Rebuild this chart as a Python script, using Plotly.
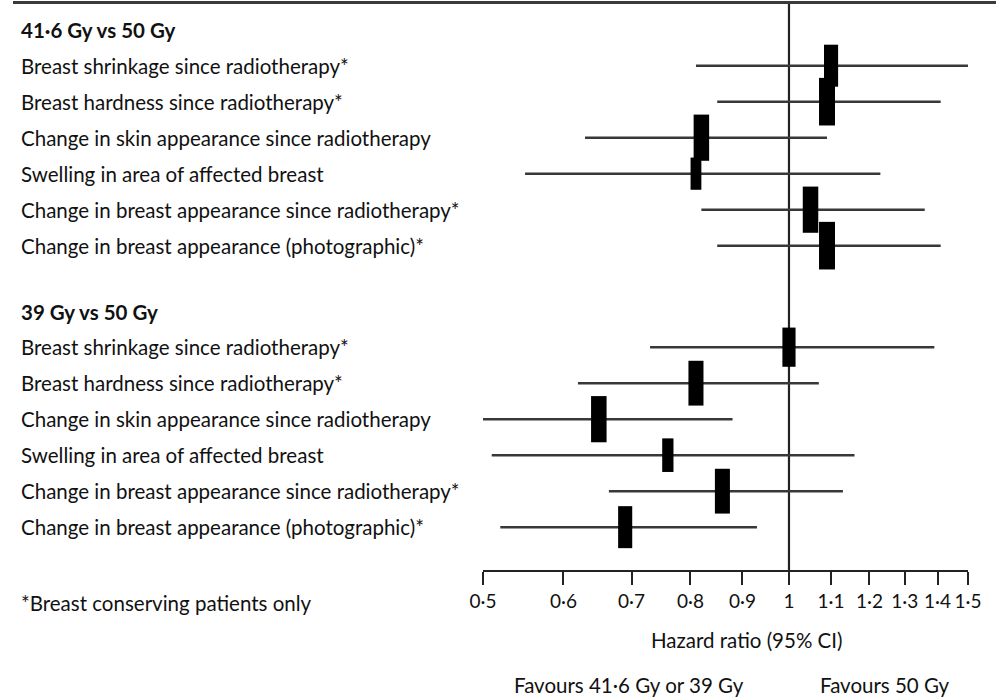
import plotly.graph_objects as go

# ---- data -------------------------------------------------------------
group_titles = ["41·6 Gy vs 50 Gy", "39 Gy vs 50 Gy"]
outcomes = [
    "Breast shrinkage since radiotherapy*",
    "Breast hardness since radiotherapy*",
    "Change in skin appearance since radiotherapy",
    "Swelling in area of affected breast",
    "Change in breast appearance since radiotherapy*",
    "Change in breast appearance (photographic)*",
]

# 41.6 Gy vs 50 Gy
hr_416 = [1.10, 1.09, 0.82, 0.81, 1.05, 1.09]
lo_416 = [0.81, 0.85, 0.63, 0.55, 0.82, 0.85]
hi_416 = [1.50, 1.41, 1.09, 1.23, 1.36, 1.41]
wt_416 = [30, 34, 33, 23, 33, 34]

# 39 Gy vs 50 Gy
hr_39 = [1.00, 0.81, 0.65, 0.76, 0.86, 0.69]
lo_39 = [0.73, 0.62, 0.49, 0.51, 0.665, 0.52]
hi_39 = [1.39, 1.07, 0.88, 1.16, 1.13, 0.93]
wt_39 = [28, 32, 33, 24, 32, 30]

tick_vals = [0.5, 0.6, 0.7, 0.8, 0.9, 1.0, 1.1, 1.2, 1.3, 1.4, 1.5]
tick_text = ["0·5", "0·6", "0·7", "0·8", "0·9", "1", "1·1", "1·2", "1·3", "1·4", "1·5"]

axis_title = "Hazard ratio (95% CI)"
favours_left = "Favours 41·6 Gy or 39 Gy"
favours_right = "Favours 50 Gy"
footnote = "*Breast conserving patients only"

# ---- layout helpers ---------------------------------------------------
W, H = 996, 698
FONT = "Lato, sans-serif"
TXT = "#111111"
FS = 20.5
LEFT = 19 / W

header_pos = [0.0, 7.85]
groups = [
    (hr_416, lo_416, hi_416, wt_416),
    (hr_39, lo_39, hi_39, wt_39),
]

fig = go.Figure()

# reference line at HR = 1
fig.add_trace(go.Scatter(
    x=[1, 1], y=[-0.72, 15.01], mode="lines",
    line=dict(color="#222", width=2.2), hoverinfo="skip", showlegend=False,
))

annotations = []
for g, (hr, lo, hi, wt) in enumerate(groups):
    ys = [header_pos[g] + 1 - 0.03 * g + k for k in range(len(hr))]
    # confidence interval segments
    cx, cy = [], []
    for l, h, y in zip(lo, hi, ys):
        cx += [l, h, None]
        cy += [y, y, None]
    fig.add_trace(go.Scatter(
        x=cx, y=cy, mode="lines", line=dict(color="#383838", width=2.5),
        hoverinfo="skip", showlegend=False,
    ))
    # point estimates drawn as weighted rectangles
    fig.add_trace(go.Scatter(
        x=hr, y=ys, mode="markers", showlegend=False,
        marker=dict(
            symbol="line-ns", size=wt, color="black", opacity=1,
            line=dict(color="black", width=[w * 0.47 for w in wt]),
        ),
    ))
    annotations.append(dict(
        x=LEFT, xref="paper", y=header_pos[g], yref="y",
        text="<b>%s</b>" % group_titles[g], showarrow=False,
        xanchor="left", yanchor="middle", font=dict(size=FS, color=TXT, family=FONT),
    ))
    for name, y in zip(outcomes, ys):
        annotations.append(dict(
            x=LEFT, xref="paper", y=y, yref="y", text=name, showarrow=False,
            xanchor="left", yanchor="middle", font=dict(size=FS, color=TXT, family=FONT),
        ))

# bottom texts
annotations += [
    dict(x=LEFT, xref="paper", y=1 - 603 / H, yref="paper", text=footnote,
         showarrow=False, xanchor="left", yanchor="middle",
         font=dict(size=FS, color=TXT, family=FONT)),
    dict(x=746 / W, xref="paper", y=1 - 640 / H, yref="paper", text=axis_title,
         showarrow=False, xanchor="center", yanchor="middle",
         font=dict(size=FS, color=TXT, family=FONT)),
    dict(x=746 / W, xref="paper", y=1 - 685 / H, yref="paper", text=favours_left,
         showarrow=False, xanchor="right", yanchor="middle",
         font=dict(size=FS, color=TXT, family=FONT)),
    dict(x=818 / W, xref="paper", y=1 - 685 / H, yref="paper", text=favours_right,
         showarrow=False, xanchor="left", yanchor="middle",
         font=dict(size=FS, color=TXT, family=FONT)),
]

fig.update_layout(
    width=W, height=H,
    margin=dict(l=0, r=0, t=0, b=0, autoexpand=False),
    paper_bgcolor="white", plot_bgcolor="white",
    annotations=annotations,
    shapes=[dict(type="line", xref="paper", yref="paper",
                 x0=13 / W, x1=1, y0=1 - 2.5 / H, y1=1 - 2.5 / H,
                 line=dict(color="#3a3a3a", width=3))],
    xaxis=dict(
        type="log", domain=[483 / W, 968 / W],
        range=[-0.30103, 0.17612], automargin=False,
        tickvals=tick_vals, ticktext=tick_text, tickangle=0,
        ticks="outside", ticklen=13, tickwidth=2, tickcolor="#222",
        showline=True, linecolor="#222", linewidth=2,
        showgrid=False, zeroline=False,
        tickfont=dict(size=19, color=TXT, family=FONT),
    ),
    yaxis=dict(
        domain=[1 - 570 / H, 1], range=[15.01, -0.825], automargin=False,
        visible=False, showgrid=False, zeroline=False,
    ),
)

fig.write_html("out.html")
